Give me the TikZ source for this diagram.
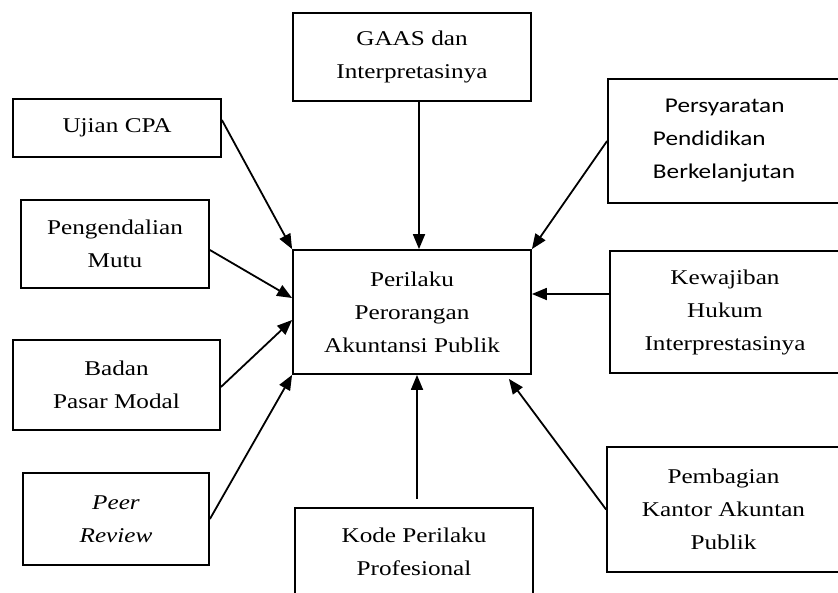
\documentclass[tikz,border=0pt]{standalone}
\usepackage{fontspec}
\setmainfont[FakeStretch=1.2]{Liberation Serif}
\newfontfamily\calib[FakeStretch=1.2]{Carlito}
\usetikzlibrary{arrows.meta,calc}
\tikzset{
  box/.style={draw=black, line width=1.8pt, inner sep=0pt, align=center,
    font=\fontsize{21pt}{33pt}\selectfont},
  arr/.style={line width=1.8pt, -{Triangle[length=15pt,width=12pt]}}
}
\begin{document}
\begin{tikzpicture}[x=1pt,y=-1pt]
\useasboundingbox (0,0) rectangle (838,592);
\node[box, minimum width=238pt, minimum height=88pt] (gaas) at (412,57) {GAAS dan\\Interpretasinya};
\node[box, minimum width=208pt, minimum height=58pt] (ujian) at (117,128) {Ujian CPA};
\node[box, minimum width=188pt, minimum height=88pt] (peng) at (115,244) {Pengendalian\\Mutu};
\node[box, minimum width=238pt, minimum height=124pt] (pusat) at (412,312) {Perilaku\\Perorangan\\Akuntansi Publik};
\node[box, minimum width=207pt, minimum height=90pt] (badan) at (116.5,385) {Badan\\Pasar Modal};
\node[box, minimum width=186pt, minimum height=92pt] (peer) at (116,519) {\itshape Peer\\\itshape Review};
\node[box, minimum width=238pt, minimum height=88pt] (kode) at (414,552) {Kode Perilaku\\Profesional};
\node[box, minimum width=232pt, minimum height=124pt, align=left, font=\calib\fontsize{21pt}{33pt}\selectfont] (pers) at (724,141) {\hspace*{12pt}Persyaratan\\Pendidikan\\Berkelanjutan};
\node[box, minimum width=230pt, minimum height=122pt] (kew) at (725,312) {Kewajiban\\Hukum\\Interprestasinya};
\node[box, minimum width=233pt, minimum height=125pt] (pemb) at (723.5,509.5) {Pembagian\\Kantor Akuntan\\Publik};

\draw[arr] ([xshift=7pt]gaas.south) -- ([xshift=7pt]pusat.north);
\draw[arr] ([yshift=8pt]ujian.east) -- (pusat.north west);
\draw[arr] ([yshift=-6pt]peng.east) -- ([yshift=14pt]pusat.west);
\draw[arr] ([yshift=-2pt]badan.east) -- ([yshift=-8pt]pusat.west);
\draw[arr] (peer.east) -- (pusat.south west);
\draw[arr, shorten <=8pt] ([xshift=3pt]kode.north) -- ([xshift=5pt]pusat.south);
\draw[arr] (pemb.west) -- ([xshift=-23pt,yshift=-4pt]pusat.south east);
\draw[arr] ([yshift=18pt]kew.west) -- ([yshift=18pt]pusat.east);
\draw[arr] (pers.west) -- (pusat.north east);
\end{tikzpicture}
\end{document}
